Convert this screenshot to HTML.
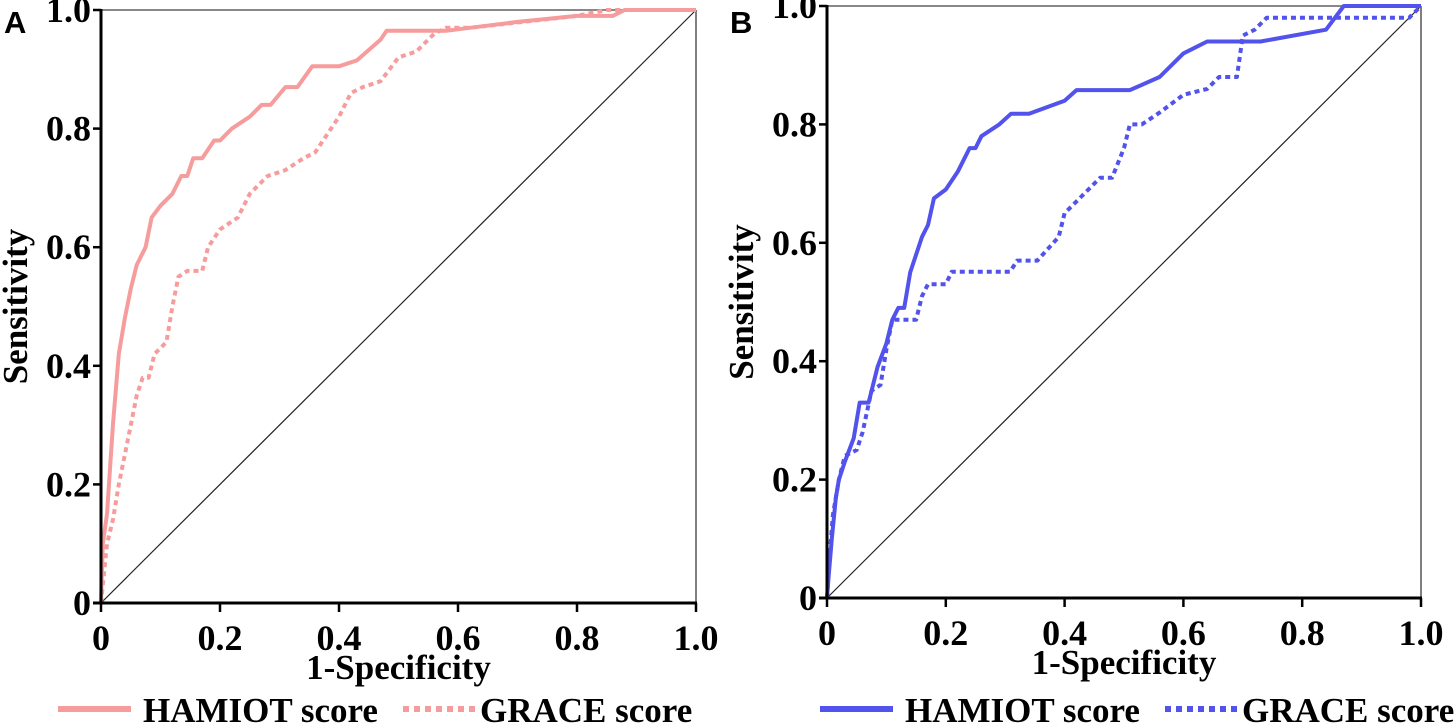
<!DOCTYPE html>
<html><head><meta charset="utf-8"><style>
html,body{margin:0;padding:0;background:#fff;width:1455px;height:725px;overflow:hidden}
text{font-family:"Liberation Serif",serif;font-weight:bold;fill:#000}
.sans{font-family:"Liberation Sans",sans-serif}
</style></head><body>
<svg id="chart" width="1455" height="725" viewBox="0 0 1455 725" xmlns="http://www.w3.org/2000/svg"></svg>
<script>
// Panel A data
const aHamiotX=[0,0.003,0.01,0.02,0.03,0.04,0.05,0.06,0.075,0.085,0.1,0.12,0.135,0.145,0.155,0.17,0.19,0.2,0.22,0.25,0.27,0.285,0.31,0.33,0.355,0.4,0.43,0.47,0.48,0.58,0.62,0.7,0.8,0.86,0.88,1];
const aHamiotY=[0,0.1,0.15,0.3,0.42,0.48,0.53,0.57,0.6,0.65,0.67,0.69,0.72,0.72,0.75,0.75,0.78,0.78,0.8,0.82,0.84,0.84,0.87,0.87,0.905,0.905,0.915,0.95,0.965,0.965,0.97,0.98,0.99,0.99,1,1];
const aGraceX=[0,0.005,0.01,0.02,0.03,0.04,0.05,0.06,0.07,0.08,0.09,0.11,0.12,0.13,0.145,0.17,0.18,0.2,0.23,0.25,0.28,0.31,0.34,0.36,0.4,0.42,0.44,0.47,0.5,0.53,0.56,0.58,0.62,0.8,0.85,1];
const aGraceY=[0,0.05,0.1,0.14,0.2,0.25,0.3,0.35,0.38,0.38,0.42,0.44,0.5,0.55,0.56,0.56,0.6,0.63,0.65,0.69,0.72,0.73,0.75,0.76,0.82,0.86,0.87,0.88,0.92,0.93,0.96,0.97,0.97,0.99,1,1];
// Panel B data
const bHamiotX=[0,0.003,0.008,0.015,0.02,0.03,0.045,0.055,0.07,0.085,0.1,0.11,0.12,0.13,0.14,0.16,0.17,0.18,0.2,0.22,0.24,0.25,0.26,0.29,0.31,0.34,0.4,0.42,0.51,0.56,0.6,0.64,0.73,0.84,0.87,1];
const bHamiotY=[0,0.04,0.1,0.17,0.2,0.23,0.27,0.33,0.33,0.39,0.43,0.47,0.49,0.49,0.55,0.61,0.63,0.675,0.69,0.72,0.76,0.76,0.78,0.8,0.818,0.818,0.84,0.858,0.858,0.88,0.92,0.94,0.94,0.96,1,1];
const bGraceX=[0,0.005,0.01,0.02,0.03,0.05,0.06,0.075,0.09,0.1,0.11,0.15,0.16,0.17,0.2,0.21,0.308,0.32,0.354,0.39,0.4,0.42,0.44,0.46,0.48,0.5,0.51,0.53,0.56,0.6,0.64,0.66,0.69,0.7,0.72,0.74,0.98,1];
const bGraceY=[0,0.08,0.14,0.2,0.24,0.25,0.28,0.35,0.36,0.42,0.47,0.47,0.51,0.53,0.53,0.551,0.551,0.57,0.57,0.61,0.65,0.67,0.69,0.71,0.71,0.76,0.8,0.8,0.82,0.85,0.86,0.88,0.88,0.95,0.96,0.98,0.98,1];
const tickVals=[0,0.2,0.4,0.6,0.8,1.0];
const tickLabels=["0","0.2","0.4","0.6","0.8","1.0"];

const NS="http://www.w3.org/2000/svg";
const svg=document.getElementById('chart');
function mk(tag,attrs,parent){const e=document.createElementNS(NS,tag);for(const k in attrs)e.setAttribute(k,attrs[k]);(parent||svg).appendChild(e);return e;}

function panel(p){
  const g=mk('g',{});
  
  
  const sx=v=>p.x0+v*(p.x1-p.x0), sy=v=>p.y0-v*(p.y0-p.y1);
  let e=mk('line',{x1:sx(0),y1:sy(1),x2:sx(1),y2:sy(1),stroke:'#888','stroke-width':2},g);
  
  e=mk('line',{x1:sx(1),y1:sy(1),x2:sx(1),y2:sy(0),stroke:'#555','stroke-width':1.5},g);
  
  e=mk('line',{x1:sx(0),y1:sy(0),x2:sx(1),y2:sy(1),stroke:'#222','stroke-width':1.2},g);
  
  function series(xs,ys,name,dash){
    const d=xs.map((x,i)=>(i?'L':'M')+sx(x).toFixed(1)+','+sy(ys[i]).toFixed(1)).join('');
    const a={d:d,fill:'none',stroke:p.color,'stroke-width':4,'stroke-linejoin':'round'};
    if(dash)a['stroke-dasharray']='5,4';
    const s=mk('path',a,g);
    
    
  }
  series(p.gx,p.gy,'grace-curve-'+p.id,true);
  series(p.hx,p.hy,'hamiot-curve-'+p.id,false);
  e=mk('line',{x1:sx(0),y1:sy(0)-1,x2:sx(0),y2:sy(1)-1,stroke:'#000','stroke-width':3},g);
  
  e=mk('line',{x1:sx(0)-8,y1:sy(0),x2:sx(1)+1,y2:sy(0),stroke:'#000','stroke-width':3},g);
  
  tickVals.forEach((v,i)=>{
    let t=mk('line',{x1:sx(0)-8,y1:sy(v),x2:sx(0),y2:sy(v),stroke:'#000','stroke-width':2.5},g);
    
    t=mk('text',{x:sx(0)-10,y:sy(v)+12,'text-anchor':'end','font-size':36},g);
    t.textContent=tickLabels[i];
    
    t=mk('line',{x1:sx(v),y1:sy(0),x2:sx(v),y2:sy(0)+9,stroke:'#000','stroke-width':2.5},g);
    
    t=mk('text',{x:sx(v),y:sy(0)+47,'text-anchor':'middle','font-size':36},g);
    t.textContent=tickLabels[i];
    
  });
  let t=mk('text',{x:(sx(0)+sx(1))/2,y:sy(0)+76,'text-anchor':'middle','font-size':35},g);
  t.textContent='1-Specificity';
  
  const cy=(sy(0)+sy(1))/2;
  t=mk('text',{x:0,y:0,'text-anchor':'middle','font-size':35,transform:'translate('+(p.x0-74)+','+cy+') rotate(-90)'},g);
  t.textContent='Sensitivity';
  
  t=mk('text',{x:p.x0-97,y:33,'font-size':31,'class':'sans'},g);
  t.textContent=p.id;
  
  const L=p.leg;
  t=mk('line',{x1:L,y1:709,x2:L+73,y2:709,stroke:p.color,'stroke-width':6},g);
  
  t=mk('text',{x:L+85,y:722,'font-size':35},g);t.textContent='HAMIOT score';
  
  t=mk('line',{x1:L+345,y1:709,x2:L+421,y2:709,stroke:p.color,'stroke-width':6,'stroke-dasharray':'6,5'},g);
  
  t=mk('text',{x:L+422,y:722,'font-size':35},g);t.textContent='GRACE score';
  
}
panel({id:'A',x0:101,x1:696,y0:603,y1:10,color:'#f79c9c',hx:aHamiotX,hy:aHamiotY,gx:aGraceX,gy:aGraceY,leg:58});
panel({id:'B',x0:827,x1:1421,y0:598,y1:6,color:'#5252ec',hx:bHamiotX,hy:bHamiotY,gx:bGraceX,gy:bGraceY,leg:820});
</script>
</body></html>
